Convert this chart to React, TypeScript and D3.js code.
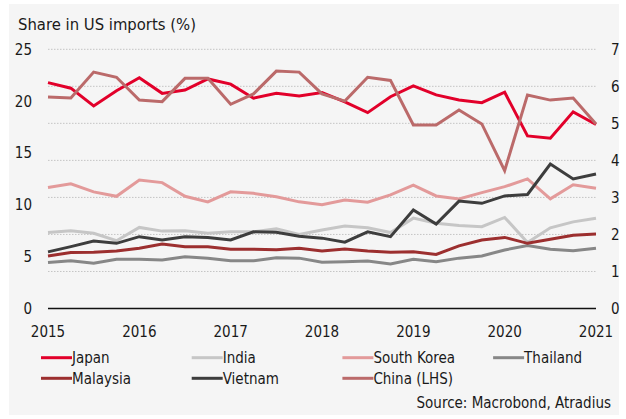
import React from "react"
import * as d3 from "d3"

const years = [2015, 2016, 2017, 2018, 2019, 2020, 2021]
const leftTicks = [0, 5, 10, 15, 20, 25]
const rightTicks = [0, 1, 2, 3, 4, 5, 6, 7]

// quarterly, 2015Q1 .. 2021Q1
const japan = [6.10, 5.95, 5.47, 5.88, 6.23, 5.81, 5.90, 6.20, 6.06, 5.68, 5.81, 5.74, 5.83, 5.58, 5.29, 5.72, 6.01, 5.77, 5.63, 5.56, 5.84, 4.66, 4.60, 5.31, 4.97]
const india = [2.05, 2.10, 2.03, 1.83, 2.19, 2.09, 2.10, 2.03, 2.07, 2.07, 2.15, 2.0, 2.12, 2.23, 2.18, 2.05, 2.44, 2.30, 2.24, 2.21, 2.46, 1.78, 2.18, 2.34, 2.44]
const southKorea = [3.27, 3.37, 3.15, 3.03, 3.47, 3.40, 3.03, 2.88, 3.15, 3.11, 3.02, 2.88, 2.80, 2.93, 2.87, 3.07, 3.33, 3.04, 2.96, 3.13, 3.29, 3.50, 2.96, 3.34, 3.25]
const thailand = [1.24, 1.29, 1.22, 1.33, 1.33, 1.31, 1.40, 1.36, 1.29, 1.29, 1.37, 1.36, 1.25, 1.26, 1.28, 1.20, 1.33, 1.26, 1.36, 1.42, 1.58, 1.70, 1.60, 1.56, 1.63]
const malaysia = [1.42, 1.51, 1.52, 1.55, 1.63, 1.74, 1.67, 1.67, 1.60, 1.60, 1.59, 1.63, 1.55, 1.61, 1.55, 1.52, 1.53, 1.46, 1.69, 1.85, 1.92, 1.76, 1.87, 1.98, 2.01]
const vietnam = [1.53, 1.67, 1.82, 1.76, 1.94, 1.85, 1.94, 1.92, 1.85, 2.07, 2.06, 1.95, 1.90, 1.79, 2.07, 1.94, 2.66, 2.28, 2.90, 2.84, 3.04, 3.08, 3.90, 3.50, 3.63]
const china = [20.4, 20.3, 22.8, 22.3, 20.1, 19.95, 22.2, 22.2, 19.7, 20.7, 22.9, 22.8, 20.7, 20.0, 22.3, 22.0, 17.7, 17.7, 19.15, 17.8, 13.3, 20.6, 20.1, 20.3, 17.8]

const series = [
  { name: "Japan", values: japan, color: "#e2002a", lhs: false },
  { name: "India", values: india, color: "#c6c6c6", lhs: false },
  { name: "South Korea", values: southKorea, color: "#e39a9a", lhs: false },
  { name: "Thailand", values: thailand, color: "#878787", lhs: false },
  { name: "Malaysia", values: malaysia, color: "#9c2f2f", lhs: false },
  { name: "Vietnam", values: vietnam, color: "#3d3d3d", lhs: false },
  { name: "China (LHS)", values: china, color: "#bb6a6a", lhs: true },
]

const W = 626
const H = 419
const font = "'DejaVu Sans Condensed', 'DejaVu Sans', sans-serif"

export default function App() {
  const x = d3.scaleLinear().domain([2015, 2021]).range([48, 596])
  const yR = d3.scaleLinear().domain([0, 7]).range([308.5, 49.3])
  const yL = d3.scaleLinear().domain([0, 25]).range([308.5, 49.3])

  const mkLine = (lhs: boolean) =>
    d3
      .line<number>()
      .x((_, i) => x(2015 + i / 4))
      .y((d) => (lhs ? yL(d) : yR(d)))

  return (
    <svg width={W} height={H} style={{ position: "absolute", left: 0, top: 0, fontFamily: font }}>
      <rect x={0} y={0} width={W} height={H} fill="#fff" />
      <rect x={9} y={4} width={610} height={411} fill="#f5f5f5" />
      <text x={18} y={29.5} fontSize={16.5} fill="#1a1a1a">Share in US imports (%)</text>

      {rightTicks.filter((t) => t > 0).map((t) => (
        <line key={t} x1={48} x2={596} y1={yR(t)} y2={yR(t)} stroke="#c4c4c4" strokeWidth={1} strokeDasharray="1.5,1.5" />
      ))}

      {leftTicks.map((t) => (
        <text key={t} x={32} y={yL(t)} dy="0.36em" textAnchor="end" fontSize={15} fill="#1a1a1a">{t}</text>
      ))}
      {rightTicks.map((t) => (
        <text key={t} x={611} y={yR(t)} dy="0.36em" textAnchor="start" fontSize={15} fill="#1a1a1a">{t}</text>
      ))}
      {years.map((yr) => (
        <text key={yr} x={x(yr)} y={337} textAnchor="middle" fontSize={15} fill="#1a1a1a">{yr}</text>
      ))}

      {series.map((s) => (
        <path key={s.name} d={mkLine(s.lhs)(s.values) || ""} fill="none" stroke={s.color} strokeWidth={3} strokeLinejoin="miter" />
      ))}

      <line x1={48} x2={596} y1={yR(0)} y2={yR(0)} stroke="#111" strokeWidth={1.5} />

      {series.map((s, i) => {
        const lx = 41 + (i % 4) * 150.7
        const ly = i < 4 ? 357.7 : 378.3
        return (
          <g key={s.name}>
            <line x1={lx} x2={lx + 31} y1={ly} y2={ly} stroke={s.color} strokeWidth={3} />
            <text x={lx + 31} y={ly} dy="0.36em" fontSize={15} fill="#1a1a1a">{s.name}</text>
          </g>
        )
      })}

      <text x={611} y={408} textAnchor="end" fontSize={15} fill="#1a1a1a">Source: Macrobond, Atradius</text>
    </svg>
  )
}
